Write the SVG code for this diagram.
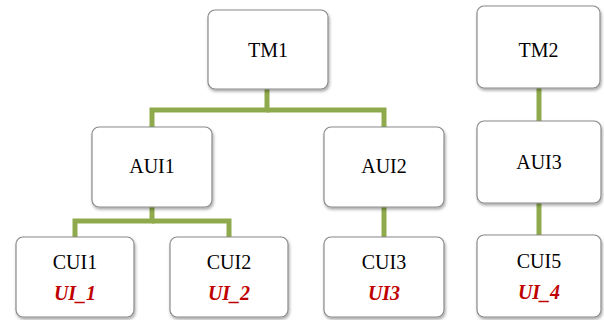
<svg xmlns="http://www.w3.org/2000/svg" width="604" height="320" viewBox="0 0 604 320">
<defs>
<filter id="sh" x="-10%" y="-10%" width="125%" height="130%">
<feDropShadow dx="1" dy="2" stdDeviation="1.8" flood-color="#000" flood-opacity="0.35"/>
</filter>
</defs>
<style>
.box{fill:#fff;stroke:#8a8a8a;stroke-width:1.2;filter:url(#sh)}
.lbl{font-family:"Liberation Serif","DejaVu Serif",serif;font-size:20px;fill:#000;text-anchor:middle}
.ui{font-family:"Liberation Serif","DejaVu Serif",serif;font-size:20px;font-weight:bold;font-style:italic;fill:#c00000;text-anchor:middle}
.con{fill:none;stroke:#8faa4c;stroke-width:5;stroke-linejoin:miter;stroke-linecap:butt}
</style>
<g id="connectors">
<polyline class="con" points="267,89 267,110 152,110 152,127"/>
<polyline class="con" points="267,110 384,110 384,127"/>
<polyline class="con" points="152,207 152,221 75,221 75,237"/>
<polyline class="con" points="152,221 229,221 229,237"/>
<line class="con" x1="384" y1="207" x2="384" y2="237"/>
<line class="con" x1="539" y1="88" x2="539" y2="121"/>
<line class="con" x1="539" y1="203" x2="539" y2="235"/>
</g>
<g id="TM1"><rect class="box" x="208" y="10" width="120" height="79" rx="7"/><text class="lbl" x="268" y="57">TM1</text></g>
<g id="TM2"><rect class="box" x="477" y="6" width="123" height="82" rx="7"/><text class="lbl" x="538.5" y="57">TM2</text></g>
<g id="AUI1"><rect class="box" x="92" y="127" width="120" height="80" rx="7"/><text class="lbl" x="152" y="173">AUI1</text></g>
<g id="AUI2"><rect class="box" x="324" y="127" width="120" height="80" rx="7"/><text class="lbl" x="384" y="173">AUI2</text></g>
<g id="AUI3"><rect class="box" x="477" y="121" width="124" height="82" rx="7"/><text class="lbl" x="539" y="169">AUI3</text></g>
<g id="CUI1"><rect class="box" x="16" y="237" width="118" height="80" rx="7"/><text class="lbl" x="75" y="269">CUI1</text><text class="ui" x="75" y="300">UI_1</text></g>
<g id="CUI2"><rect class="box" x="170" y="237" width="118" height="80" rx="7"/><text class="lbl" x="229" y="269">CUI2</text><text class="ui" x="229" y="300">UI_2</text></g>
<g id="CUI3"><rect class="box" x="324" y="237" width="120" height="80" rx="7"/><text class="lbl" x="384" y="269">CUI3</text><text class="ui" x="384" y="300">UI3</text></g>
<g id="CUI5"><rect class="box" x="477" y="235" width="124" height="82" rx="7"/><text class="lbl" x="539" y="268">CUI5</text><text class="ui" x="539" y="299">UI_4</text></g>
</svg>
